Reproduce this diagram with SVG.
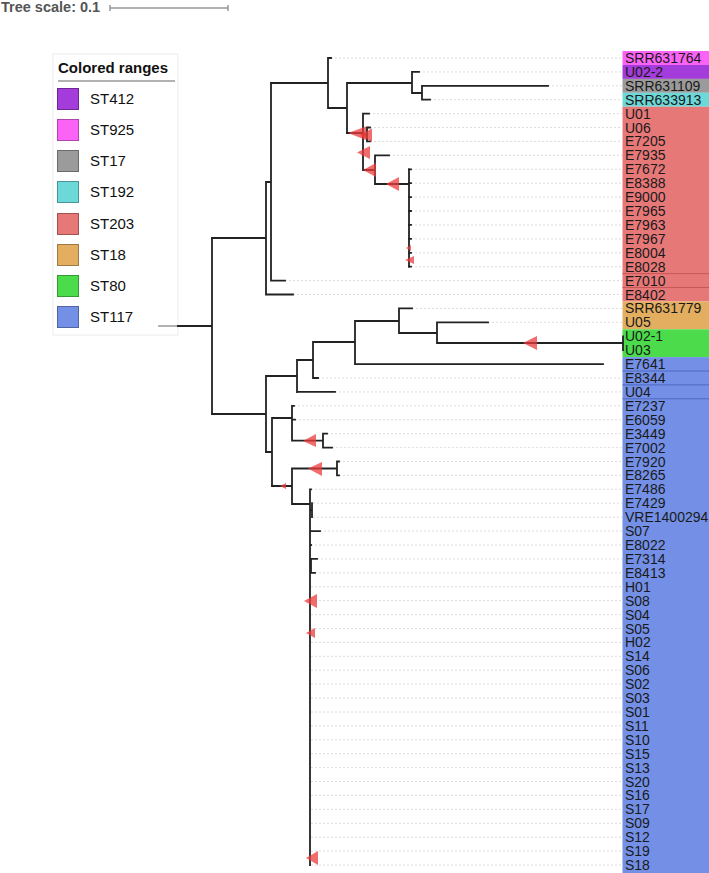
<svg xmlns="http://www.w3.org/2000/svg" width="709" height="873" viewBox="0 0 709 873">
<style>
.br{stroke:#222;stroke-width:1.8;fill:none;stroke-linecap:square}
.gd{stroke:#dcdcdc;stroke-width:1;stroke-dasharray:2,2;fill:none}
.lb{font-family:"Liberation Sans",Arial,sans-serif;font-size:14px;fill:#1a1a1a}
.lg{font-family:"Liberation Sans",Arial,sans-serif;font-size:15px;fill:#111}
.tri{fill:#ec3b3b;fill-opacity:0.75}
.p412{fill:#a43cdb}.p925{fill:#fb62f6}.p17{fill:#9b9b9b}.p192{fill:#6cd8d8}.p203{fill:#e77878}.p18{fill:#e3ae60}.p80{fill:#4bdb4b}.p117{fill:#7390e6}
</style>
<rect width="709" height="873" fill="#fff"/>
<g id="tree-scale">
<text x="1" y="12" font-family="Liberation Sans,Arial,sans-serif" font-size="14.5" font-weight="bold" fill="#555">Tree scale: 0.1</text>
<path d="M110,8H228M110,5V11M228,5V11" stroke="#999" stroke-width="1.5" fill="none"/>
</g>
<g id="legend">
<rect x="53" y="54" width="125" height="281" fill="#fff" stroke="#ececec" stroke-width="1"/>
<text x="58" y="73" class="lg" font-size="15.5" font-weight="bold">Colored ranges</text>
<line x1="58" y1="81" x2="175" y2="81" stroke="#999" stroke-width="1.5"/>
<g id="leg-ST412"><rect x="57.5" y="88.5" width="21" height="21" class="p412" stroke="#6f2795"/><text x="90" y="104" class="lg">ST412</text></g>
<g id="leg-ST925"><rect x="57.5" y="119.5" width="21" height="21" class="p925" stroke="#b044ab"/><text x="90" y="135" class="lg">ST925</text></g>
<g id="leg-ST17"><rect x="57.5" y="150.5" width="21" height="21" class="p17" stroke="#6b6b6b"/><text x="90" y="166" class="lg">ST17</text></g>
<g id="leg-ST192"><rect x="57.5" y="181.5" width="21" height="21" class="p192" stroke="#4a9696"/><text x="90" y="197" class="lg">ST192</text></g>
<g id="leg-ST203"><rect x="57.5" y="213.5" width="21" height="21" class="p203" stroke="#a05353"/><text x="90" y="229" class="lg">ST203</text></g>
<g id="leg-ST18"><rect x="57.5" y="244.5" width="21" height="21" class="p18" stroke="#9e7943"/><text x="90" y="260" class="lg">ST18</text></g>
<g id="leg-ST80"><rect x="57.5" y="275.5" width="21" height="21" class="p80" stroke="#349934"/><text x="90" y="291" class="lg">ST80</text></g>
<g id="leg-ST117"><rect x="57.5" y="306.5" width="21" height="21" class="p117" stroke="#50649f"/><text x="90" y="322" class="lg">ST117</text></g>
</g>
<g id="ranges">
<rect x="622.5" y="51" width="87" height="14" class="p925"/>
<rect x="622.5" y="65" width="87" height="13.9" class="p412"/>
<rect x="622.5" y="78.9" width="87" height="13.9" class="p17"/>
<rect x="622.5" y="92.8" width="87" height="13.9" class="p192"/>
<rect x="622.5" y="106.7" width="87" height="194.8" class="p203"/>
<rect x="622.5" y="301.5" width="87" height="27.8" class="p18"/>
<rect x="622.5" y="329.3" width="87" height="27.8" class="p80"/>
<rect x="622.5" y="357.1" width="87" height="516" class="p117"/>
<path d="M622.5,273.6H709M622.5,287.5H709" stroke="#c85858" stroke-width="1"/>
<path d="M622.5,371H709M622.5,384.9H709M622.5,398.8H709" stroke="#5068c0" stroke-width="1"/>
</g>
<g id="guides" class="gd">
<path d="M331,58H622M419,71.9H622M548,85.8H622M430,99.7H622M369,113.6H622M370,127.5H622M370,141.4H622M389,155.4H622M411,169.3H622M411,183.2H622M411,197.1H622M411,211H622M411,224.9H622M411,238.9H622M411,252.8H622M411,266.7H622M285,280.6H622M293,294.5H622M412,308.4H622M488,322.3H622M318,378H622M335,391.9H622M294,405.8H622M295,419.7H622M327,433.7H622M332,447.6H622M339,461.5H622M339,475.4H622M311,489.3H622M313,503.2H622M313,517.2H622M320,531.1H622M311,545H622M317,558.9H622M315,572.8H622"/>
<path d="M311,586.7H622M311,600.6H622M311,614.6H622M311,628.5H622M311,642.4H622M311,656.3H622M311,670.2H622M311,684.1H622M311,698H622M311,712H622M311,725.9H622M311,739.8H622M311,753.7H622M311,767.6H622M311,781.5H622M311,795.4H622M311,809.4H622M311,823.3H622M311,837.2H622M311,851.1H622M311,865H622"/>
</g>
<g id="connectors" class="br">
<path d="M159,326H178" stroke="#aaa"/>
<path d="M178,326H212M212,238V414"/>
<path d="M212,238H266M266,182V294.5M266,294.5H293M266,182H271M271,83V280.6M271,280.6H285"/>
<path d="M271,83H328M328,58V108M328,58H331M328,108H347M347,83V133M347,83H412M412,71.9V93M412,71.9H419M412,93H422M422,85.8V99.7M422,85.8H548M422,99.7H430"/>
<path d="M347,133H363M363,113.6V170M363,113.6H369M363,134.5H367M367,127.5V141.4M367,127.5H370M367,141.4H370M363,170H375M375,155.4V184M375,155.4H389M375,184H409M409,169.3V266.7"/>
<path d="M409,169.3H411M409,183.2H411M409,197.1H411M409,211H411M409,224.9H411M409,238.9H411M409,252.8H411M409,266.7H411"/>
<path d="M212,414H266M266,376V452M266,376H297M297,360V392M297,391.9H335M297,360H313M313,342V378M313,378H318M313,342H355M355,321V364M355,364.1H603M355,321H399M399,308.4V333M399,308.4H412M399,333H437M437,322.3V343M437,322.3H488M437,343H623M623,336.3V350.2"/>
<path d="M266,452H272M272,418V486M272,418H292M292,405.8V440.6M292,405.8H294M292,419.7H295M292,440.6H323M323,433.7V447.6M323,433.7H327M323,447.6H332"/>
<path d="M272,486H292M292,468.5V504M292,468.5H337M337,461.5V475.4M337,461.5H339M337,475.4H339M292,504H310M310,489.3V865M310,489.3H311M310,510H312M312,503.2V517.2M310,531.1H320M310,545H311M311,558.9V572.8M310,558.9H317M311,572.8H315"/>
</g>
<g id="markers">
<polygon class="tri" points="348,133 366,126.5 366,140"/>
<polygon class="tri" points="360,135 372,128.5 372,142"/>
<polygon class="tri" points="357,152.5 370,146 370,159"/>
<polygon class="tri" points="363,170 376,163 376,177"/>
<polygon class="tri" points="386,184 399,177 399,191"/>
<polygon class="tri" points="406,248 411,245 411,251"/>
<polygon class="tri" points="405,260 414,256 414,264"/>
<polygon class="tri" points="523,343 537,336 537,350"/>
<polygon class="tri" points="303,441 316,434 316,447"/>
<polygon class="tri" points="308,468.5 322,462 322,476"/>
<polygon class="tri" points="280,486 286,483 286,489"/>
<polygon class="tri" points="304,601 317,594 317,608"/>
<polygon class="tri" points="306,633 315,628 315,638"/>
<polygon class="tri" points="306,858 318,851 318,865"/>
</g>
<g id="labels" class="lb">
<text x="625" y="63">SRR631764</text>
<text x="625" y="76.9">U02-2</text>
<text x="625" y="90.8">SRR631109</text>
<text x="625" y="104.7">SRR633913</text>
<text x="625" y="118.6">U01</text>
<text x="625" y="132.5">U06</text>
<text x="625" y="146.4">E7205</text>
<text x="625" y="160.4">E7935</text>
<text x="625" y="174.3">E7672</text>
<text x="625" y="188.2">E8388</text>
<text x="625" y="202.1">E9000</text>
<text x="625" y="216">E7965</text>
<text x="625" y="229.9">E7963</text>
<text x="625" y="243.9">E7967</text>
<text x="625" y="257.8">E8004</text>
<text x="625" y="271.7">E8028</text>
<text x="625" y="285.6">E7010</text>
<text x="625" y="299.5">E8402</text>
<text x="625" y="313.4">SRR631779</text>
<text x="625" y="327.3">U05</text>
<text x="625" y="341.3">U02-1</text>
<text x="625" y="355.2">U03</text>
<text x="625" y="369.1">E7641</text>
<text x="625" y="383">E8344</text>
<text x="625" y="396.9">U04</text>
<text x="625" y="410.8">E7237</text>
<text x="625" y="424.7">E6059</text>
<text x="625" y="438.7">E3449</text>
<text x="625" y="452.6">E7002</text>
<text x="625" y="466.5">E7920</text>
<text x="625" y="480.4">E8265</text>
<text x="625" y="494.3">E7486</text>
<text x="625" y="508.2">E7429</text>
<text x="625" y="522.2">VRE1400294</text>
<text x="625" y="536.1">S07</text>
<text x="625" y="550">E8022</text>
<text x="625" y="563.9">E7314</text>
<text x="625" y="577.8">E8413</text>
<text x="625" y="591.7">H01</text>
<text x="625" y="605.6">S08</text>
<text x="625" y="619.6">S04</text>
<text x="625" y="633.5">S05</text>
<text x="625" y="647.4">H02</text>
<text x="625" y="661.3">S14</text>
<text x="625" y="675.2">S06</text>
<text x="625" y="689.1">S02</text>
<text x="625" y="703">S03</text>
<text x="625" y="717">S01</text>
<text x="625" y="730.9">S11</text>
<text x="625" y="744.8">S10</text>
<text x="625" y="758.7">S15</text>
<text x="625" y="772.6">S13</text>
<text x="625" y="786.5">S20</text>
<text x="625" y="800.4">S16</text>
<text x="625" y="814.4">S17</text>
<text x="625" y="828.3">S09</text>
<text x="625" y="842.2">S12</text>
<text x="625" y="856.1">S19</text>
<text x="625" y="870">S18</text>
</g>
</svg>
